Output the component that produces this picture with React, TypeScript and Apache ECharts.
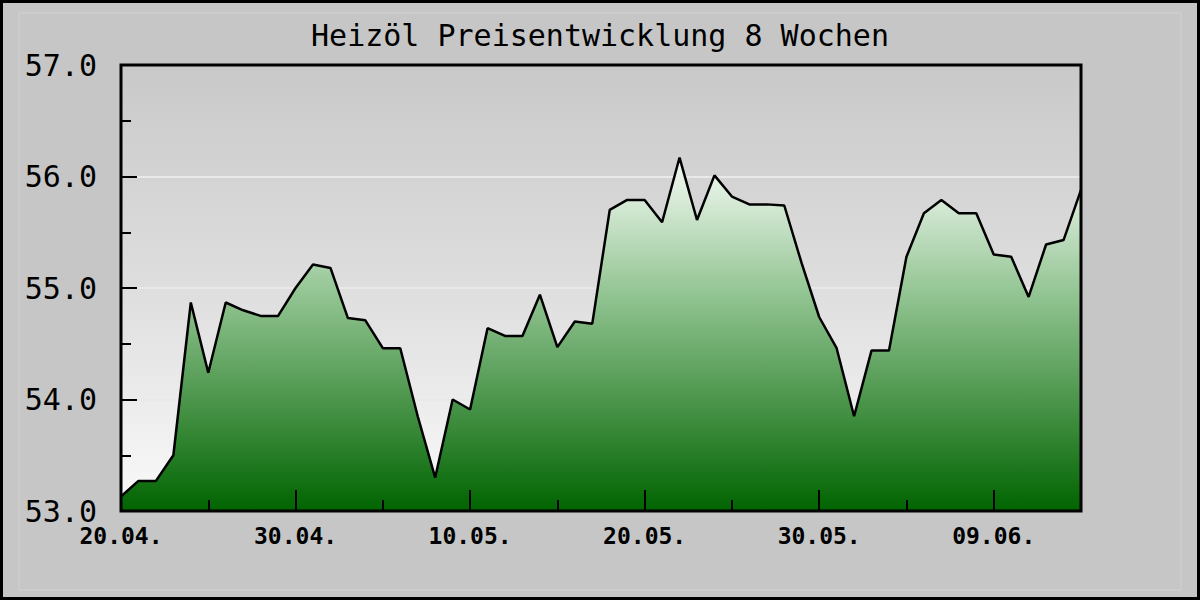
import React, { useEffect, useRef } from "react";
import * as echarts from "echarts";

const chartTitle = "Heizöl Preisentwicklung 8 Wochen";

const dates = [
  "20.04.", "21.04.", "22.04.", "23.04.", "24.04.", "25.04.", "26.04.", "27.04.", "28.04.", "29.04.", "30.04.",
  "01.05.", "02.05.", "03.05.", "04.05.", "05.05.", "06.05.", "07.05.", "08.05.", "09.05.", "10.05.",
  "11.05.", "12.05.", "13.05.", "14.05.", "15.05.", "16.05.", "17.05.", "18.05.", "19.05.", "20.05.",
  "21.05.", "22.05.", "23.05.", "24.05.", "25.05.", "26.05.", "27.05.", "28.05.", "29.05.", "30.05.",
  "31.05.", "01.06.", "02.06.", "03.06.", "04.06.", "05.06.", "06.06.", "07.06.", "08.06.", "09.06.",
  "10.06.", "11.06.", "12.06.", "13.06.", "14.06.",
];

const prices = [
  53.13, 53.27, 53.27, 53.5, 54.87, 54.24, 54.87, 54.8, 54.75, 54.75, 55.0,
  55.21, 55.18, 54.73, 54.71, 54.46, 54.46, 53.85, 53.3, 54.0, 53.91,
  54.64, 54.57, 54.57, 54.94, 54.47, 54.7, 54.68, 55.7, 55.79, 55.79,
  55.59, 56.17, 55.61, 56.01, 55.82, 55.75, 55.75, 55.74, 55.22, 54.74,
  54.46, 53.85, 54.44, 54.44, 55.28, 55.67, 55.79, 55.67, 55.67, 55.3,
  55.28, 54.92, 55.39, 55.43, 55.88,
];

const yMin = 53;
const yMax = 57;
const yStep = 1;

export default function App() {
  const ref = useRef<HTMLDivElement>(null);
  useEffect(() => {
    document.body.style.margin = "0";
    const chart = echarts.init(ref.current!, null, { renderer: "svg" });
    const mono = "'DejaVu Sans Mono', 'Liberation Mono', monospace";
    chart.setOption({
      animation: false,
      backgroundColor: "#c6c6c6",
      title: {
        text: chartTitle,
        left: "center",
        top: 15,
        textStyle: { fontFamily: mono, fontSize: 30, fontWeight: "normal", color: "#000" },
      },
      grid: {
        left: 121,
        right: 119,
        top: 65,
        bottom: 89,
        show: true,
        borderWidth: 0,
        backgroundColor: new echarts.graphic.LinearGradient(0, 0, 0, 1, [
          { offset: 0, color: "#c9c9c9" },
          { offset: 0.5, color: "#dedede" },
          { offset: 1, color: "#fafafa" },
        ]),
      },
      xAxis: [
        {
          type: "category",
          data: dates,
          boundaryGap: false,
          z: 10,
          axisLine: { show: false },
          axisTick: { show: true, inside: true, interval: 9, length: 21, lineStyle: { color: "#000", width: 2 } },
          axisLabel: {
            interval: 9,
            margin: 13,
            fontFamily: mono,
            fontSize: 23,
            fontWeight: "bold",
            color: "#000",
          },
          splitLine: { show: false },
        },
        {
          type: "category",
          data: dates,
          boundaryGap: false,
          position: "bottom",
          z: 10,
          axisLine: { show: false },
          axisTick: { show: true, inside: true, interval: 4, length: 11, lineStyle: { color: "#000", width: 2 } },
          axisLabel: { show: false },
          splitLine: { show: false },
        },
      ],
      yAxis: {
        type: "value",
        min: yMin,
        max: yMax,
        interval: yStep,
        axisLine: { show: false },
        axisTick: { show: true, inside: true, length: 16, lineStyle: { color: "#000", width: 2 } },
        minorTick: { show: true, splitNumber: 2, length: 10, lineStyle: { color: "#000", width: 2 } },
        minorSplitLine: { show: false },
        axisLabel: {
          formatter: (v: number) => v.toFixed(1),
          margin: 24,
          fontFamily: mono,
          fontSize: 30,
          color: "#000",
        },
        splitLine: { show: true, lineStyle: { color: "#e9e9e9", width: 2 } },
      },
      series: [
        {
          type: "line",
          data: prices,
          xAxisIndex: 0,
          symbol: "none",
          lineStyle: { color: "#000", width: 2.5 },
          areaStyle: {
            opacity: 1,
            color: new echarts.graphic.LinearGradient(
              0, 150, 0, 511,
              [
                { offset: 0, color: "#f4faf4" },
                { offset: 0.1, color: "#e2f0e2" },
                { offset: 0.4, color: "#92c492" },
                { offset: 0.7, color: "#4a944a" },
                { offset: 1, color: "#006400" },
              ],
              true
            ),
          },
          z: 3,
        },
      ],
      graphic: [
        {
          type: "rect",
          z: 100,
          silent: true,
          shape: { x: 121, y: 65, width: 960, height: 446 },
          style: { fill: "none", stroke: "#000", lineWidth: 3 },
        },
        {
          type: "rect",
          z: 1,
          silent: true,
          shape: { x: 19, y: 13, width: 1162, height: 577 },
          style: { fill: "none", stroke: "#d2d2d2", lineWidth: 1 },
        },
        {
          type: "rect",
          z: 100,
          silent: true,
          shape: { x: 1.5, y: 1.5, width: 1197, height: 597 },
          style: { fill: "none", stroke: "#000", lineWidth: 3 },
        },
      ],
    });
    return () => chart.dispose();
  }, []);
  return <div ref={ref} style={{ width: 1200, height: 600 }} />;
}
